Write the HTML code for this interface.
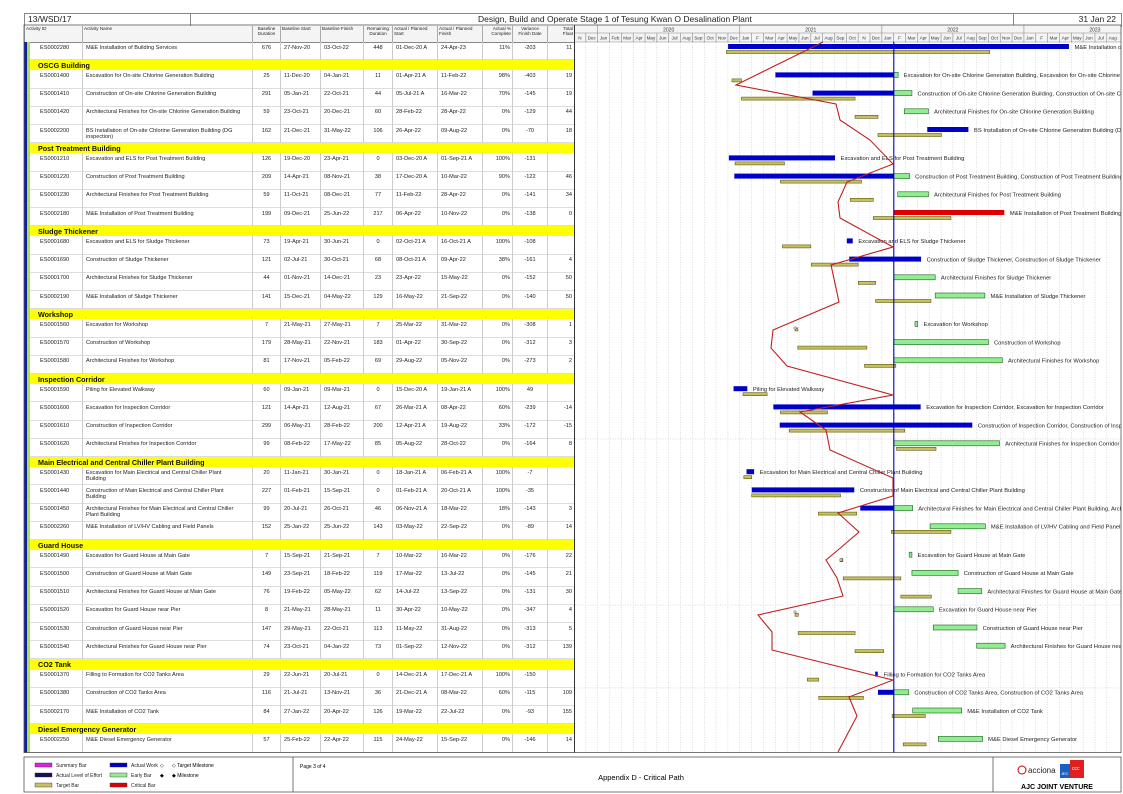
<!DOCTYPE html>
<html><head><meta charset="utf-8">
<style>
html,body{margin:0;padding:0;background:#fff;}
#p{position:relative;width:1123px;height:794px;overflow:hidden;font-family:"Liberation Sans",sans-serif;color:#222;}
.a{position:absolute;white-space:nowrap;}
</style></head><body><div id="p"></div>
<script>
const M=['Jan','Feb','Mar','Apr','May','Jun','Jul','Aug','Sep','Oct','Nov','Dec'];
function X(s){s=s.replace(' A','');let [d,m,y]=s.split('-');d=+d;m=M.indexOf(m);y=2000+ +y;return 882+((y-2022)*12+m+(d-1)/30.4)*11.84;}
const DD=893.8;
const R=[
['ES0002280','M&E Installation of Building Services','676','27-Nov-20','03-Oct-22','448','01-Dec-20 A','24-Apr-23','11%','-203','11','M&E Installation of Building Services'],
['H','OSCG Building'],
['ES0001400','Excavation for On-site Chlorine Generation Building','25','11-Dec-20','04-Jan-21','11','01-Apr-21 A','11-Feb-22','98%','-403','19','Excavation for On-site Chlorine Generation Building, Excavation for On-site Chlorine Generation Building'],
['ES0001410','Construction of On-site Chlorine Generation Building','291','05-Jan-21','22-Oct-21','44','05-Jul-21 A','16-Mar-22','70%','-145','19','Construction of On-site Chlorine Generation Building, Construction of On-site Chlorine Generation Building'],
['ES0001420','Architectural Finishes for On-site Chlorine Generation Building','59','23-Oct-21','20-Dec-21','60','28-Feb-22','28-Apr-22','0%','-129','44','Architectural Finishes for On-site Chlorine Generation Building'],
['ES0002200','BS Installation of On-site Chlorine Generation Building (DG<br>inspection)','162','21-Dec-21','31-May-22','106','26-Apr-22','09-Aug-22','0%','-70','18','BS Installation of On-site Chlorine Generation Building (DG inspection)'],
['H','Post Treatment Building'],
['ES0001210','Excavation and ELS for Post Treatment Building','126','19-Dec-20','23-Apr-21','0','03-Dec-20 A','01-Sep-21 A','100%','-131','','Excavation and ELS for Post Treatment Building'],
['ES0001220','Construction of Post Treatment Building','209','14-Apr-21','08-Nov-21','38','17-Dec-20 A','10-Mar-22','90%','-122','46','Construction of Post Treatment Building, Construction of Post Treatment Building'],
['ES0001230','Architectural Finishes for Post Treatment Building','59','11-Oct-21','08-Dec-21','77','11-Feb-22','28-Apr-22','0%','-141','34','Architectural Finishes for Post Treatment Building'],
['ES0002180','M&E Installation of Post Treatment Building','199','09-Dec-21','25-Jun-22','217','06-Apr-22','10-Nov-22','0%','-138','0','M&E Installation of Post Treatment Building','r'],
['H','Sludge Thickener'],
['ES0001680','Excavation and ELS for Sludge Thickener','73','19-Apr-21','30-Jun-21','0','02-Oct-21 A','16-Oct-21 A','100%','-108','','Excavation and ELS for Sludge Thickener'],
['ES0001690','Construction of Sludge Thickener','121','02-Jul-21','30-Oct-21','68','08-Oct-21 A','09-Apr-22','38%','-161','4','Construction of Sludge Thickener, Construction of Sludge Thickener'],
['ES0001700','Architectural Finishes for Sludge Thickener','44','01-Nov-21','14-Dec-21','23','23-Apr-22','15-May-22','0%','-152','50','Architectural Finishes for Sludge Thickener'],
['ES0002190','M&E Installation of Sludge Thickener','141','15-Dec-21','04-May-22','129','16-May-22','21-Sep-22','0%','-140','50','M&E Installation of Sludge Thickener'],
['H','Workshop'],
['ES0001560','Excavation for Workshop','7','21-May-21','27-May-21','7','25-Mar-22','31-Mar-22','0%','-308','1','Excavation for Workshop'],
['ES0001570','Construction of Workshop','179','28-May-21','22-Nov-21','183','01-Apr-22','30-Sep-22','0%','-312','3','Construction of Workshop'],
['ES0001580','Architectural Finishes for Workshop','81','17-Nov-21','05-Feb-22','69','29-Aug-22','05-Nov-22','0%','-273','2','Architectural Finishes for Workshop'],
['H','Inspection Corridor'],
['ES0001590','Piling for Elevated Walkway','60','09-Jan-21','09-Mar-21','0','15-Dec-20 A','19-Jan-21 A','100%','49','','Piling for Elevated Walkway'],
['ES0001600','Excavation for Inspection Corridor','121','14-Apr-21','12-Aug-21','67','26-Mar-21 A','08-Apr-22','60%','-239','-14','Excavation for Inspection Corridor, Excavation for Inspection Corridor','r'],
['ES0001610','Construction of Inspection Corridor','299','06-May-21','28-Feb-22','200','12-Apr-21 A','19-Aug-22','33%','-172','-15','Construction of Inspection Corridor, Construction of Inspection Corridor','r'],
['ES0001620','Architectural Finishes for Inspection Corridor','99','08-Feb-22','17-May-22','85','05-Aug-22','28-Oct-22','0%','-164','8','Architectural Finishes for Inspection Corridor'],
['H','Main Electrical and Central Chiller Plant Building'],
['ES0001430','Excavation for Main Electrical and Central Chiller Plant<br>Building','20','11-Jan-21','30-Jan-21','0','18-Jan-21 A','06-Feb-21 A','100%','-7','','Excavation for Main Electrical and Central Chiller Plant Building'],
['ES0001440','Construction of Main Electrical and Central Chiller Plant<br>Building','227','01-Feb-21','15-Sep-21','0','01-Feb-21 A','20-Oct-21 A','100%','-35','','Construction of Main Electrical and Central Chiller Plant Building'],
['ES0001450','Architectural Finishes for Main Electrical and Central Chiller<br>Plant Building','99','20-Jul-21','26-Oct-21','46','06-Nov-21 A','18-Mar-22','18%','-143','3','Architectural Finishes for Main Electrical and Central Chiller Plant Building, Architectural Finishes'],
['ES0002260','M&E Installation of LV/HV Cabling and Field Panels','152','25-Jan-22','25-Jun-22','143','03-May-22','22-Sep-22','0%','-89','14','M&E Installation of LV/HV Cabling and Field Panels'],
['H','Guard House'],
['ES0001490','Excavation for Guard House at Main Gate','7','15-Sep-21','21-Sep-21','7','10-Mar-22','16-Mar-22','0%','-176','22','Excavation for Guard House at Main Gate'],
['ES0001500','Construction of Guard House at Main Gate','149','23-Sep-21','18-Feb-22','119','17-Mar-22','13-Jul-22','0%','-145','21','Construction of Guard House at Main Gate'],
['ES0001510','Architectural Finishes for Guard House at Main Gate','76','19-Feb-22','05-May-22','62','14-Jul-22','13-Sep-22','0%','-131','30','Architectural Finishes for Guard House at Main Gate'],
['ES0001520','Excavation for Guard House near Pier','8','21-May-21','28-May-21','11','30-Apr-22','10-May-22','0%','-347','4','Excavation for Guard House near Pier'],
['ES0001530','Construction of Guard House near Pier','147','29-May-21','22-Oct-21','113','11-May-22','31-Aug-22','0%','-313','5','Construction of Guard House near Pier'],
['ES0001540','Architectural Finishes for Guard House near Pier','74','23-Oct-21','04-Jan-22','73','01-Sep-22','12-Nov-22','0%','-312','139','Architectural Finishes for Guard House near Pier'],
['H','CO2 Tank'],
['ES0001370','Filling to Formation for CO2 Tanks Area','29','22-Jun-21','20-Jul-21','0','14-Dec-21 A','17-Dec-21 A','100%','-150','','Filling to Formation for CO2 Tanks Area'],
['ES0001380','Construction of CO2 Tanks Area','116','21-Jul-21','13-Nov-21','36','21-Dec-21 A','08-Mar-22','60%','-115','109','Construction of CO2 Tanks Area, Construction of CO2 Tanks Area'],
['ES0002170','M&E Installation of CO2 Tank','84','27-Jan-22','20-Apr-22','126','19-Mar-22','22-Jul-22','0%','-93','155','M&E Installation of CO2 Tank'],
['H','Diesel Emergency Generator'],
['ES0002250','M&E Diesel Emergency Generator','57','25-Feb-22','22-Apr-22','115','24-May-22','15-Sep-22','0%','-146','14','M&E Diesel Emergency Generator']
];
const cols=[[24,58,'l',16],[82,170,'l',3],[252,28,'c'],[280,40,'l',3],[320,43,'l',3],[363,29,'c'],[392,45,'l',3],[437,45,'l',3],[482,30,'r',2],[512,35,'c'],[547,27,'r',2]];
const RH=18.2,HH=10.2,TOP=42;
let h='',s='';
h+=`<div class="a" style="left:24px;top:13px;width:1096px;height:12px;border:1px solid #888;"></div>`;
h+=`<div class="a" style="left:190px;top:13px;width:1px;height:13px;background:#888"></div><div class="a" style="left:1013px;top:13px;width:1px;height:13px;background:#888"></div>`;
h+=`<div class="a" style="left:28px;top:14px;font-size:8.5px">13/WSD/17</div>`;
h+=`<div class="a" style="left:478px;top:14px;font-size:8.5px">Design, Build and Operate Stage 1 of Tesung Kwan O Desalination Plant</div>`;
h+=`<div class="a" style="left:1013px;width:103px;text-align:right;top:14px;font-size:8.5px">31 Jan 22</div>`;
const hd=['Activity ID','Activity Name','Baseline<br>Duration','Baseline Start','Baseline Finish','Remaining<br>Duration','Actual / Planned<br>Start','Actual / Planned<br>Finish','Actual %<br>Complete','Variance<br>Finish Date','Total<br>Float'];
h+=`<div class="a" style="left:24px;top:26px;width:550px;height:16px;background:#f4f4f4;border-bottom:1px solid #888"></div>`;
cols.forEach((c,i)=>{const al=i==0||i==1||i==3||i==4||i==6||i==7?'left':(i==8||i==10?'right':'center');
h+=`<div class="a" style="left:${c[0]}px;top:26px;width:${c[1]-3}px;padding:0 1px;height:16px;border-left:1px solid #aaa;font-size:4.6px;line-height:5px;text-align:${al};white-space:normal">${hd[i]}</div>`;});
let y=TOP;const tops=[];
R.forEach(r=>{
 if(r[0]=='H'){h+=`<div class="a" style="left:30px;top:${y}px;width:544px;height:${HH}px;background:#ffff00;font-size:7.2px;font-weight:bold;line-height:${HH+1}px;padding-left:8px;box-sizing:border-box;color:#111">${r[1]}</div>`;y+=HH;tops.push(null);return;}
 tops.push(y);
 h+=`<div class="a" style="left:30px;top:${y}px;width:544px;height:${RH}px;border-bottom:1px solid #ddd;box-sizing:border-box"></div>`;
 cols.forEach((c,i)=>{const al=c[2]=='l'?'left':c[2]=='r'?'right':'center';
  h+=`<div class="a" style="left:${c[0]}px;top:${y}px;width:${c[1]}px;height:${RH}px;border-left:${i>0?'1px solid #ccc':'none'};box-sizing:border-box;font-size:5.6px;line-height:6.2px;padding-top:2.5px;text-align:${al};${c[2]=='l'?'padding-left:'+c[3]+'px':c[2]=='r'?'padding-right:'+c[3]+'px':''};white-space:nowrap;overflow:${i==0?'visible':'hidden'}">${r[i]}</div>`;});
 y+=RH;
});
const BOT=y;
h+=`<div class="a" style="left:24px;top:42px;width:3px;height:${BOT-42}px;background:#1020a0"></div><div class="a" style="left:27px;top:42px;width:3px;height:${BOT-42}px;background:#a8e060"></div>`;
h+=`<div class="a" style="left:574px;top:25px;width:1px;height:${BOT-25}px;background:#333"></div>`;
s+=`<svg class="a" style="left:0;top:0" width="1123" height="794" viewBox="0 0 1123 794"><defs><clipPath id="c"><rect x="575" y="25" width="546" height="${BOT-25}"/></clipPath></defs><g clip-path="url(#c)" font-family="Liberation Sans, sans-serif">`;
s+=`<rect x="575" y="25" width="546" height="17" fill="#f4f4f4"/>`;
const ab=['N','Dec','Jan','Feb','Mar','Apr','May','Jun','Jul','Aug','Sep','Oct','Nov','Dec','Jan','F','Mar','Apr','May','Jun','Jul','Aug','Sep','Oct','N','Dec','Jan','F','Mar','Apr','May','Jun','Jul','Aug','Sep','Oct','Nov','Dec','Jan','F','Mar','Apr','May','Jun','Jul','Aug'];
for(let k=0;k<46;k++){const x=574+k*11.84;
 s+=`<line x1="${x}" y1="33" x2="${x}" y2="42" stroke="#888" stroke-width="0.6"/>`;
 s+=`<text x="${x+5.9}" y="39.5" font-size="4.6" text-anchor="middle" fill="#333">${ab[k]}</text>`;
 if(k>0)s+=`<line x1="${x}" y1="42" x2="${x}" y2="${BOT}" stroke="#bbb" stroke-width="0.5" stroke-dasharray="1,1.5"/>`;}
[['2020',2],['2021',14],['2022',26],['2023',38]].forEach(([t,k])=>{const x=574+k*11.84;s+=`<line x1="${x}" y1="25" x2="${x}" y2="33" stroke="#888" stroke-width="0.6"/><text x="${x+71}" y="31.5" font-size="5" text-anchor="middle" fill="#333">${t}</text>`;});
s+=`<line x1="575" y1="33" x2="1121" y2="33" stroke="#888" stroke-width="0.6"/><line x1="575" y1="42" x2="1121" y2="42" stroke="#888" stroke-width="0.6"/>`;
[439,605,688].forEach(yy=>s+=`<line x1="575" y1="${yy}" x2="1121" y2="${yy}" stroke="#bbb" stroke-width="0.5" stroke-dasharray="1,1.5"/>`);
function bar(x1,x2,yy,hh,f,st){if(x2-x1<2.5)x2=x1+2.5;s+=`<rect x="${x1}" y="${yy}" width="${x2-x1}" height="${hh}" fill="${f}" ${st?'stroke="'+st+'" stroke-width="0.6"':''}/>`;}
R.forEach((r,i)=>{const t=tops[i];if(t==null)return;
 const a=r[6].includes('A'),f=r[7].includes('A');let end;
 const rc=r[12]=='r'?'#e00000':'#90ee90',rs=r[12]=='r'?null:'#206020';
 if(a&&f){bar(X(r[6]),X(r[7])+0.4,t+2,5,'#0000c8');end=Math.max(X(r[7]),X(r[6])+2.5);}
 else if(a){bar(X(r[6]),DD,t+2,5,'#0000c8');bar(DD,X(r[7])+0.4,t+2,5,rc,rs);end=X(r[7]);}
 else{bar(X(r[6]),X(r[7])+0.4,t+2,5,rc,rs);end=Math.max(X(r[7]),X(r[6])+2.5);}
 bar(X(r[3]),X(r[4])+0.4,t+8.5,3,'#c8c060','#5a5a10');
 s+=`<text x="${end+6}" y="${t+6.8}" font-size="5.8" fill="#222">${r[11]}</text>`;
});
s+=`<line x1="${DD}" y1="42" x2="${DD}" y2="${BOT}" stroke="#0000c0" stroke-width="1.1"/>`;
const pts=[[823,42],[813,47],[736,85],[836,104],[840,120],[870,140],[893,164],[847,182],[838,202],[840,218],[893,247],[831,265],[839,302],[773,330],[771,348],[787,366],[893,395],[800,412],[826,430],[830,450],[893,478],[893,496],[838,513],[859,532],[838,550],[826,560],[837,578],[843,596],[758,615],[772,632],[772,650],[893,680],[849,697],[857,716],[838,752]];
s+=`<polyline points="${pts.map(p=>p.join(',')).join(' ')}" fill="none" stroke="#c02020" stroke-width="1.1"/>`;
[[795,328],[841,560],[795,612]].forEach(([x,yy])=>s+=`<circle cx="${x}" cy="${yy}" r="1.2" fill="#fff" stroke="#333" stroke-width="0.5"/>`);
s+=`</g><rect x="24" y="25" width="1097" height="${BOT-25}" fill="none" stroke="#555" stroke-width="0.8"/>`;
s+=`<rect x="24" y="757" width="1097" height="35" fill="none" stroke="#555" stroke-width="0.8"/><line x1="293" y1="757" x2="293" y2="792" stroke="#555" stroke-width="0.8"/><line x1="993" y1="757" x2="993" y2="792" stroke="#555" stroke-width="0.8"/>`;
const lg=[[35,763,'#e020e0','Summary Bar'],[35,773,'#101060','Actual Level of Effort'],[35,783,'#c8c060','Target Bar'],[110,763,'#0000c8','Actual Work'],[110,773,'#90ee90','Early Bar'],[110,783,'#e00000','Critical Bar']];
lg.forEach(([x,yy,c,t])=>s+=`<rect x="${x}" y="${yy}" width="17" height="4" fill="${c}" stroke="#333" stroke-width="0.4"/><text x="${x+21}" y="${yy+4}" font-size="5" font-family="Liberation Sans" fill="#222">${t}</text>`);
s+=`<text x="160" y="767" font-size="5" font-family="DejaVu Sans">◇</text><text x="160" y="777" font-size="5" font-family="DejaVu Sans">◆</text>`;
s+=`<text x="172" y="767" font-size="5" font-family="Liberation Sans">◇ Target Milestone</text><text x="172" y="777" font-size="5" font-family="Liberation Sans">◆ Milestone</text>`;
s+=`<text x="300" y="768" font-size="5" font-family="Liberation Sans">Page 3 of 4</text>`;
s+=`<text x="641" y="780" font-size="7.5" text-anchor="middle" font-family="Liberation Sans">Appendix D - Critical Path</text>`;
s+=`<text x="1028" y="773" font-size="8" font-family="Liberation Sans" fill="#222">acciona</text><circle cx="1022" cy="770" r="4" fill="none" stroke="#c00" stroke-width="1"/>`;
s+=`<rect x="1060" y="764" width="10" height="14" fill="#1a60c0"/><rect x="1070" y="760" width="14" height="18" fill="#e02020"/><text x="1061" y="775" font-size="4" fill="#fff" font-family="Liberation Sans">JEC</text><text x="1072" y="770" font-size="5" fill="#fff" font-family="Liberation Sans">ccc</text>`;
s+=`<text x="1057" y="789" font-size="7" font-weight="bold" text-anchor="middle" font-family="Liberation Sans">AJC JOINT VENTURE</text></svg>`;
document.getElementById('p').innerHTML=h+s;
</script></body></html>
